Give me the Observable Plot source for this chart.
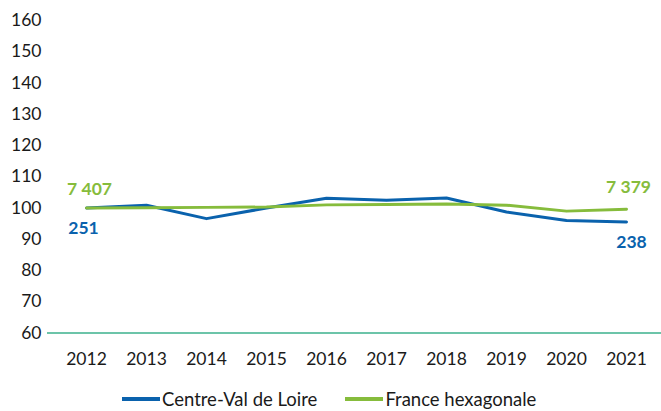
<!DOCTYPE html>
<html>
<head>
<meta charset="utf-8">
<script src="https://cdn.jsdelivr.net/npm/d3@7"></script>
<script src="https://cdn.jsdelivr.net/npm/@observablehq/plot@0.6"></script>
<style>
  body { margin: 0; background: #fff; font-family: Lato, "Open Sans", sans-serif; overflow: hidden; }
  #legend { display: flex; align-items: center; height: 48px; padding-left: 122px; font-size: 18.5px; line-height: 1; color: #1a1a1a; }
  .item { display: flex; align-items: center; margin-right: 28px; }
  .sw { width: 38px; height: 4px; margin-right: 2px; }
</style>
</head>
<body>
<div id="chart"></div>
<div id="legend"></div>
<script>
const years = [2012, 2013, 2014, 2015, 2016, 2017, 2018, 2019, 2020, 2021];
const centreVal = [100, 100.9, 96.6, 100.0, 103.1, 102.5, 103.2, 98.7, 96.0, 95.5];
const franceHex = [100, 100.1, 100.2, 100.3, 101.0, 101.1, 101.3, 100.9, 99.0, 99.6];
const seriesNames = ["Centre-Val de Loire", "France hexagonale"];
const startLabels = ["251", "7 407"];
const endLabels = ["238", "7 379"];
const yTicks = [60, 70, 80, 90, 100, 110, 120, 130, 140, 150, 160];

const colors = ["#0a62ad", "#86bc3c"];
const seriesValues = [centreVal, franceHex];

const data = [];
seriesNames.forEach((s, i) => years.forEach((y, j) => data.push({series: s, year: y, value: seriesValues[i][j]})));

const labels = [];
seriesNames.forEach((s, i) => {
  labels.push({series: s, year: years[0], value: seriesValues[i][0], text: startLabels[i], end: false});
  labels.push({series: s, year: years[years.length - 1], value: seriesValues[i][years.length - 1], text: endLabels[i], end: true});
});

const chart = Plot.plot({
  width: 661,
  height: 375,
  marginLeft: 47,
  marginRight: 0,
  marginTop: 20,
  marginBottom: 42.5,
  style: {fontFamily: "Lato, 'Open Sans', sans-serif", fontSize: "17.5px", color: "#1a1a1a", background: "#fff"},
  x: {type: "point", domain: years, range: [86, 626], padding: 0},
  y: {domain: [60, 160]},
  color: {domain: seriesNames, range: colors},
  marks: [
    Plot.axisY({ticks: yTicks, tickSize: 0, tickPadding: 6, label: null, fontSize: 17.5}),
    Plot.axisX({tickSize: 0, tickPadding: 20, label: null, fontSize: 17.5, tickFormat: d => String(d)}),
    Plot.ruleY([60], {stroke: "#6cc4a9", strokeWidth: 2}),
    Plot.line(data.filter(d => d.series === seriesNames[0]), {x: "year", y: "value", stroke: "series", strokeWidth: 3}),
    Plot.line(data.filter(d => d.series === seriesNames[1]), {x: "year", y: "value", stroke: "series", strokeWidth: 3}),
    // start labels
    Plot.text(labels.filter(d => d.series === seriesNames[0] && !d.end), {x: "year", y: "value", text: "text", fill: colors[0], fontWeight: "bold", fontSize: 17.5, dy: 20, dx: -3}),
    Plot.text(labels.filter(d => d.series === seriesNames[1] && !d.end), {x: "year", y: "value", text: "text", fill: colors[1], fontWeight: "bold", fontSize: 17.5, dy: -19, dx: 3}),
    // end labels
    Plot.text(labels.filter(d => d.series === seriesNames[0] && d.end), {x: "year", y: "value", text: "text", fill: colors[0], fontWeight: "bold", fontSize: 17.5, dy: 20, dx: 5}),
    Plot.text(labels.filter(d => d.series === seriesNames[1] && d.end), {x: "year", y: "value", text: "text", fill: colors[1], fontWeight: "bold", fontSize: 17.5, dy: -22, dx: 2})
  ]
});
document.getElementById("chart").appendChild(chart);

const legend = d3.select("#legend");
seriesNames.forEach((s, i) => {
  const item = legend.append("div").attr("class", "item");
  item.append("div").attr("class", "sw").style("background", colors[i]);
  item.append("span").text(s);
});
</script>
</body>
</html>
